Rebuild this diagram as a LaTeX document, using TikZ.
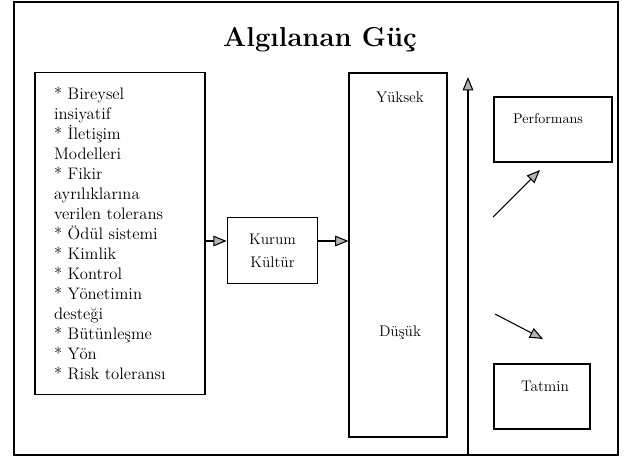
\documentclass[tikz,border=0pt]{standalone}
\usepackage{tikz}
\usetikzlibrary{arrows.meta, positioning, calc}
\tikzset{
  box/.style={draw, thick, rectangle, inner sep=0pt},
  flow/.style={thick, -{Triangle[length=10pt,width=8pt,fill=gray!60]}},
  lbl/.style={font=\fontsize{11.5}{17.25}\selectfont},
  listtxt/.style={font=\fontsize{12.5}{15}\selectfont},
}

\begin{document}
\begin{tikzpicture}[x=0.75pt,y=-0.75pt]
  \useasboundingbox (0,0) rectangle (629,464);
  % Frame and title
  \draw[thick] (14,2) rectangle (618,455);
  \node[font=\fontsize{20.5}{24}\selectfont\bfseries] (title) at (320,40) {Algılanan Güç};
  % Boxes
  \node[box, listtxt, minimum width=127.5pt, minimum height=242pt,
    text width=99pt, align=left] (factors) at (120,233.5) {%
    {*} Bireysel\\ insiyatif\\ {*} İletişim\\ Modelleri\\ {*} Fikir\\ ayrılıklarına\\
    verilen tolerans\\ {*} Ödül sistemi\\ {*} Kimlik\\ {*} Kontrol\\ {*} Yönetimin\\
    desteği\\ {*} Bütünleşme\\ {*} Yön\\ {*} Risk toleransı};
  \node[box, lbl, minimum width=68pt, minimum height=49pt, align=center] (culture) at (272.5,250.5) {Kurum\\ Kültür};
  \node[box, minimum width=73.5pt, minimum height=273pt] (level) at (398,255) {};
  \node[lbl] (high) at (400,97) {Yüksek};
  \node[lbl] (low) at (400,333) {Düşük};
  \node[box, minimum width=88.5pt, minimum height=48.75pt] (perf) at (553,129.5) {};
  \node[font=\fontsize{10.5}{12}\selectfont] (perftxt) at (548,119) {Performans};
  \node[box, minimum width=72pt, minimum height=48.75pt] (sat) at (542,396.5) {};
  \node[lbl] (sattxt) at (545,386) {Tatmin};
  % Connectors
  \draw[flow] (factors.east |- 0,241) -- (culture.west |- 0,241);
  \draw[flow] (culture.east |- 0,241) -- (level.west |- 0,241);
  \coordinate (axisbot) at (468,455);
  \coordinate (axistop) at (468,77);
  \draw[flow] (axisbot) -- (axistop);
  \coordinate (upfrom) at (493,217);
  \coordinate (upto) at (540,170);
  \draw[flow] (upfrom) -- (upto);
  \coordinate (downfrom) at (495,314);
  \coordinate (downto) at (543,339);
  \draw[flow] (downfrom) -- (downto);
\end{tikzpicture}
\end{document}
